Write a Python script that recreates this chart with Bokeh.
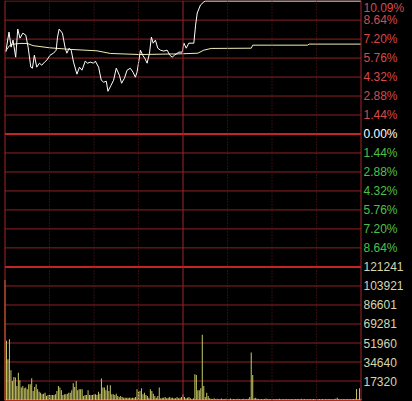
from bokeh.plotting import figure
from bokeh.models import Range1d, Span
from bokeh.core.properties import value
from bokeh.embed import file_html
from bokeh.resources import INLINE

# ---------------- data ----------------
session_bounds = [0, 240]          # minutes: 9:30 .. 15:00
session_break = [120]              # 11:30 / 13:00
half_hour_marks = [30, 60, 90, 150, 180, 210]

price_minutes = [0.5, 2.7, 4.1, 5.4, 7.2, 8.6, 10.1, 12.0, 14.0, 15.6, 17.4, 18.5, 19.8, 21.4,
                 23.2, 24.8, 26.6, 28.2, 30.4, 32.7, 34.5, 35.4, 36.5, 38.7, 40.6, 41.7, 43.3,
                 44.6, 46.2, 48.5, 50.2, 51.9, 54.1, 55.6, 57.5, 59.7, 60.9, 63.1, 64.9, 66.5,
                 68.3, 69.4, 71.5, 73.2, 75.0, 77.1, 78.6, 80.5, 82.3, 84.5, 86.3, 87.9, 89.0,
                 90.1, 91.3, 92.8, 94.2, 95.8, 97.4, 98.7, 99.9, 101.4, 103.0, 104.8, 107.0,
                 109.3, 111.1, 112.7, 114.3, 117.2, 119.5, 120.6, 122.2, 123.9, 127.3, 128.5,
                 129.6, 131.8, 134.0, 135.0, 240.0]
price_pct = [6.21, 7.73, 6.59, 7.12, 5.83, 7.96, 7.27, 7.65, 7.50, 6.59, 5.07, 4.99, 5.98, 5.07,
             5.37, 5.22, 5.45, 5.60, 5.98, 6.13, 6.36, 7.35, 7.96, 7.65, 6.51, 6.13, 6.51,
             6.36, 5.45, 4.54, 5.07, 4.84, 5.53, 5.37, 5.45, 5.37, 5.53, 5.07, 4.08, 3.93,
             4.00, 3.24, 3.70, 4.08, 4.99, 4.46, 3.85, 4.23, 4.84, 4.99, 4.69, 4.31, 4.69,
             5.45, 6.36, 5.98, 5.75, 5.37, 6.13, 7.35, 6.89, 7.12, 6.51, 6.36, 6.29,
             6.36, 5.98, 5.83, 5.98, 6.21, 6.21, 6.89, 6.51, 6.89, 6.89, 8.26,
             9.18, 9.79, 10.01, 10.09, 10.09]

avg_minutes = [0.5, 3, 5, 10, 15, 19, 30, 44, 62, 71, 91, 118, 130, 134, 139, 166, 167, 204, 205, 240]
avg_pct = [6.30, 6.70, 6.80, 6.87, 6.87, 6.70, 6.54, 6.42, 6.31, 6.11, 6.03, 6.08, 6.13, 6.36,
           6.49, 6.51, 6.74, 6.74, 6.82, 6.82]

volume = [
    109400, 53900, 37200, 55400, 27100, 17400, 21000, 20400, 12800, 24800,   # 0-9
    18000, 11300, 12800, 10700, 11300, 9750, 14300, 14300, 19800, 8200,      # 10-19
    11900, 14300, 9750, 7600, 6700, 5200, 5800, 6700, 3700, 4600,            # 20-29
    4600, 4600, 4600, 4600, 5200, 8200, 12800, 11300, 8800, 4600,            # 30-39
    5200, 5200, 5800, 6700, 6700, 8800, 15200, 11900, 17400, 8800,           # 40-49
    9750, 9750, 9750, 3700, 4600, 4600, 8800, 4600, 4600, 4600,              # 50-59
    5200, 5200, 4600, 7600, 5800, 19500, 11300, 11300, 8800, 13400,          # 60-69
    8200, 13400, 5200, 5200, 4600, 5800, 3700, 2700, 3700, 2700,             # 70-79
    2100, 2100, 2100, 2100, 2100, 2100, 2100, 2100, 2700, 9750,              # 80-89
    7600, 8200, 10700, 5200, 6700, 4600, 3700, 2100, 9750, 8200,             # 90-99
    5800, 3700, 2100, 3700, 11300, 1500, 2100, 2100, 2700, 1500,             # 100-109
    2100, 2700, 2100, 2100, 1500, 1500, 2700, 1500, 2100, 2700,              # 110-119
    5200, 2700, 1500, 2100, 2700, 1500, 600, 1500, 23500, 22900,             # 120-129
    8800, 8800, 10700, 59400, 12800, 2700, 6700, 3700, 1500, 1200,           # 130-139
    900, 1500, 700, 1200, 600, 1000, 1400, 800, 600, 1100,                   # 140-149
    900, 700, 1300, 600, 800, 1000, 700, 1200, 900, 600,                     # 150-159
    800, 1100, 700, 900, 1200, 2700, 43300, 22900, 1500, 2100,               # 160-169
    1200, 800, 600, 1000, 700, 900, 1300, 600, 800, 700,                     # 170-179
    1000, 600, 900, 700, 800, 1200, 600, 700, 900, 600,                      # 180-189
    800, 700, 600, 1000, 700, 600, 900, 800, 600, 700,                       # 190-199
    1100, 600, 800, 700, 600, 900, 700, 600, 800, 1000,                      # 200-209
    600, 700, 900, 600, 800, 700, 600, 900, 700, 800,                        # 210-219
    600, 700, 900, 1200, 2000, 800, 700, 600, 900, 700,                      # 220-229
    800, 600, 900, 700, 1000, 800, 1200, 10000, 800, 10700,                  # 230-239
    1200,                                                                    # 240
]
volume_minutes = list(range(len(volume)))

pct_levels = [10.09, 8.64, 7.20, 5.76, 4.32, 2.88, 1.44, 0.00,
              -1.44, -2.88, -4.32, -5.76, -7.20, -8.64]
vol_levels = [121241, 103921, 86601, 69281, 51960, 34640, 17320]

# ---------------- layout (pixels) ----------------
W, H = 412, 401
left_px, right_px = 4.5, 360.5     # x pixel of session start / end
top_px, row_px = 0.5, 19.0         # first grid row, row spacing
price_rows = 7                     # rows between top and 0.00%
vol_row0 = 21                      # row index of volume zero line

ppm = (right_px - left_px) / (session_bounds[1] - session_bounds[0])
x_start = session_bounds[0] - left_px / ppm
x_end = session_bounds[1] + (W - right_px) / ppm

pstep = pct_levels[0] / price_rows
y_top = pct_levels[0] + top_px / row_px * pstep
y_bot = pct_levels[0] - (H - top_px) / row_px * pstep

vstep = vol_levels[-1]
zero_px = top_px + vol_row0 * row_px
v_top = zero_px / row_px * vstep
v_bot = -(H - zero_px) / row_px * vstep

p = figure(width=W, height=H, x_range=Range1d(x_start, x_end), y_range=Range1d(y_bot, y_top),
           output_backend="svg", toolbar_location=None, x_axis_type=None, y_axis_type=None,
           min_border=0, min_border_left=0, min_border_right=0, min_border_top=0,
           min_border_bottom=0, background_fill_color="#000000", border_fill_color="#000000",
           outline_line_color=None)
p.grid.visible = False
p.extra_y_ranges = {"vol": Range1d(v_bot, v_top)}

grid_col = "#8e2222"
bold_col = "#c42424"

# horizontal price lines
thin_pct = [v for v in pct_levels if v != 0]
p.segment(x0=session_bounds[0], x1=session_bounds[1], y0=thin_pct, y1=thin_pct,
          line_color=grid_col, line_width=1)
p.segment(x0=session_bounds[0], x1=session_bounds[1], y0=[0.0], y1=[0.0],
          line_color=bold_col, line_width=2)
# horizontal volume lines
p.segment(x0=session_bounds[0], x1=session_bounds[1], y0=vol_levels[1:], y1=vol_levels[1:],
          line_color=grid_col, line_width=1, y_range_name="vol")
p.segment(x0=session_bounds[0], x1=session_bounds[1], y0=[vol_levels[0]], y1=[vol_levels[0]],
          line_color=bold_col, line_width=2, y_range_name="vol")
p.segment(x0=session_bounds[0], x1=session_bounds[1], y0=[0], y1=[0],
          line_color="#b82818", line_width=2, y_range_name="vol")

# vertical lines
for t in session_bounds + session_break:
    p.add_layout(Span(location=t, dimension="height", line_color="#a02424", line_width=1))
for t in half_hour_marks:
    p.add_layout(Span(location=t, dimension="height", line_color="#6a1a1a", line_width=1,
                      line_dash="1 2"))

# volume bars
bar_colors = ["#e8a048" if i == 0 else "#c8c864" for i in range(len(volume))]
p.vbar(x=volume_minutes, top=volume, bottom=0, width=1.0 / ppm, fill_color=bar_colors,
       line_color=None, y_range_name="vol")

# price and average lines
p.line(avg_minutes, avg_pct, line_color="#eeeeb4", line_width=1)
p.line(price_minutes, price_pct, line_color="#ffffff", line_width=1)

# right-hand labels
label_x = session_bounds[1] + 2.5 / ppm
pct_text = ["%.2f%%" % abs(v) for v in pct_levels]
pct_colors = ["#d84a4a" if v > 0 else ("#ffffff" if v == 0 else "#4cc04c") for v in pct_levels]
font = value("Liberation Sans")
# top label kept inside the frame
p.text(x=[label_x], y=pct_levels[:1], text=pct_text[:1], text_color=pct_colors[:1],
       text_baseline="top", text_align="left", text_font=font, text_font_size="12px")
p.text(x=[label_x] * (len(pct_levels) - 1), y=pct_levels[1:], text=pct_text[1:],
       text_color=pct_colors[1:], text_baseline="middle", text_align="left",
       text_font=font, text_font_size="12px")
p.text(x=[label_x] * len(vol_levels), y=vol_levels, text=[str(v) for v in vol_levels],
       text_color="#d6d6b0", text_baseline="middle", text_align="left",
       text_font=font, text_font_size="12px", y_range_name="vol")

html = file_html(p, INLINE, title="chart")
html = html.replace("<head>", "<head>\n<style>html,body{margin:0;padding:0;background:#000;overflow:hidden;}</style>", 1)
open("out.html", "w").write(html)
